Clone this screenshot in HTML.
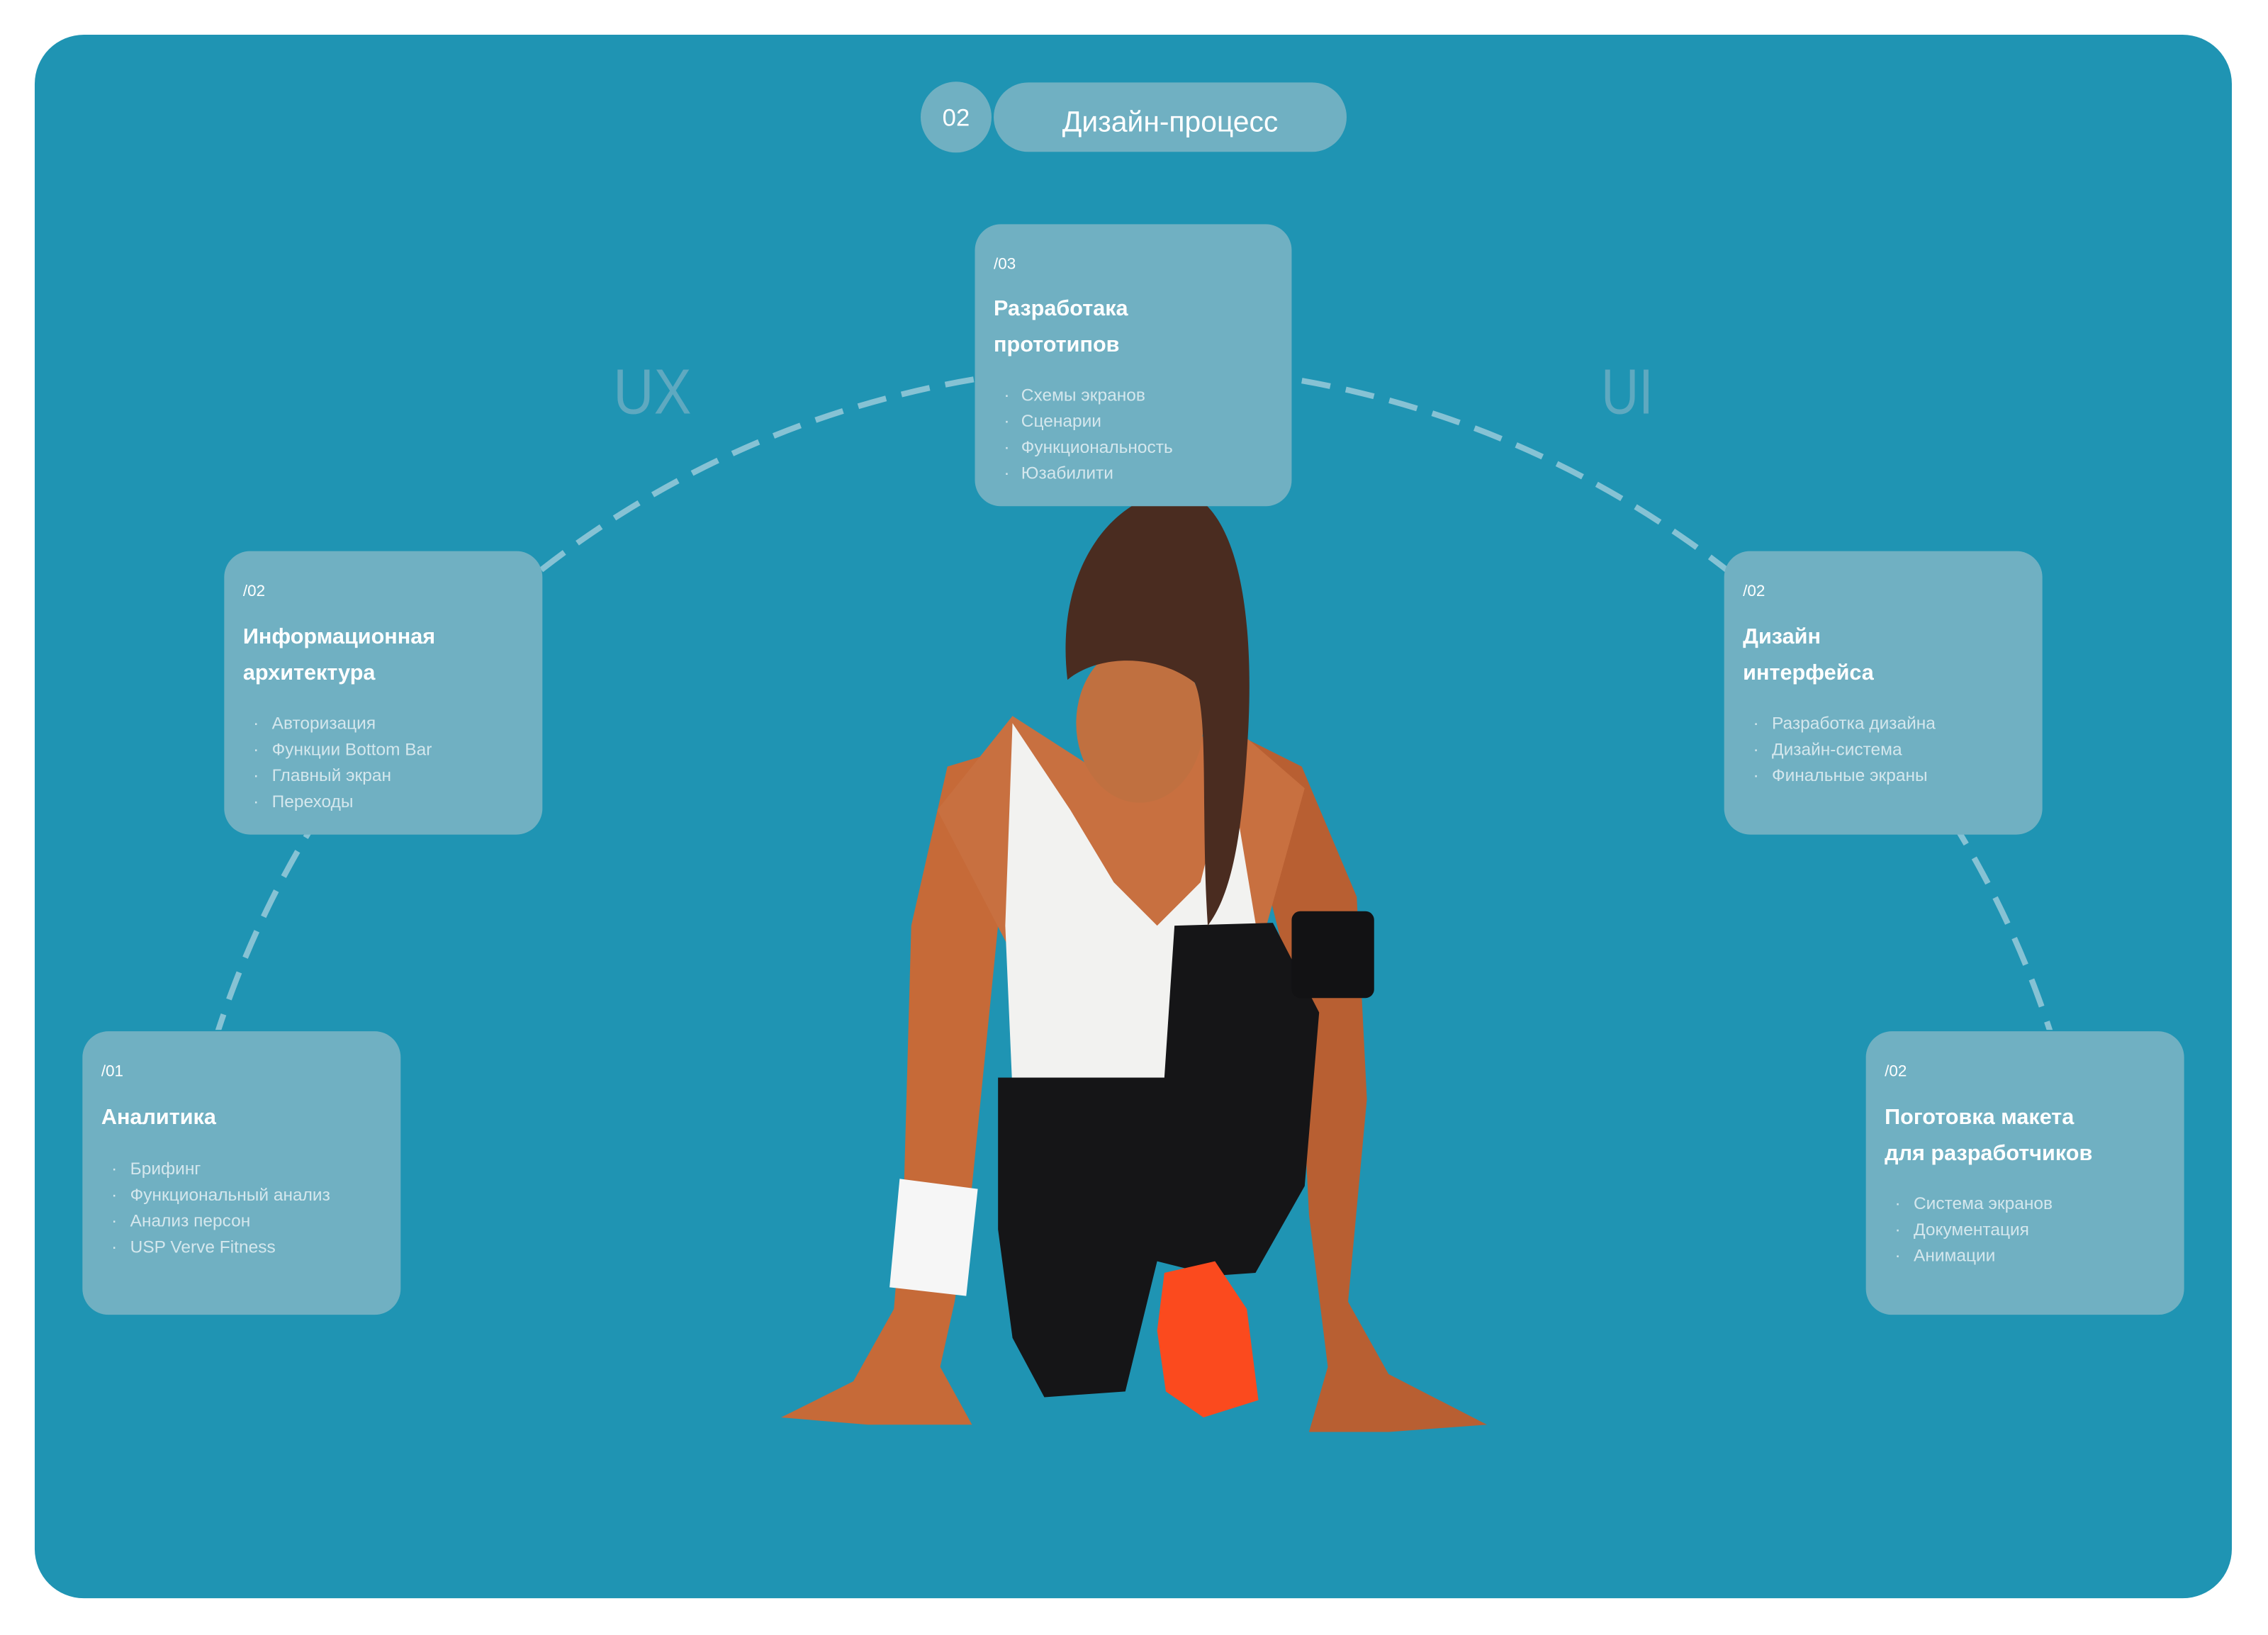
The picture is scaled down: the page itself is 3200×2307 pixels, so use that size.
<!DOCTYPE html>
<html><head><meta charset="utf-8"><style>
html,body{margin:0;padding:0;background:#fff;overflow:hidden;width:3200px;height:2307px;position:relative;}
svg{display:block;position:absolute;left:0;top:0;}
text{font-family:"Liberation Sans","DejaVu Sans",sans-serif;}
</style></head><body>
<svg width="3200" height="2307" viewBox="0 0 1568 1130.4" preserveAspectRatio="none" xmlns="http://www.w3.org/2000/svg">
<defs><clipPath id="arcclip"><rect x="0" y="0" width="1568" height="712"/></clipPath></defs>
<rect x="24" y="24" width="1519" height="1081" rx="34" fill="#1f94b3"/>
<circle cx="784" cy="919" r="666" fill="none" stroke="#86c2d4" stroke-width="4" stroke-dasharray="20 11" clip-path="url(#arcclip)"/>
<text x="424" y="286" font-size="44" fill="#5fa9c0" textLength="54" lengthAdjust="spacingAndGlyphs">UX</text>
<text x="1107" y="286" font-size="44" fill="#5fa9c0" textLength="36" lengthAdjust="spacingAndGlyphs">UI</text>
<circle cx="661" cy="81" r="24.5" fill="#70b0c2"/>
<text x="661" y="87" font-size="17" fill="#fff" text-anchor="middle">02</text>
<rect x="687" y="57" width="244" height="48" rx="24" fill="#70b0c2"/>
<text x="809" y="91" font-size="20" fill="#fff" text-anchor="middle">Дизайн-процесс</text>

<g>
<path d="M655,530 L705,515 L690,640 L672,820 L660,900 L650,945 L672,985 L600,985 L540,980 L590,955 L618,905 L625,820 L630,640 Z" fill="#c66a38"/>
<path d="M840,500 L900,530 L938,620 L945,760 L932,900 L960,950 L1028,985 L960,990 L905,990 L918,945 L905,840 L898,700 L878,620 Z" fill="#b85f32"/>
<path d="M648,560 L700,495 L770,540 L850,500 L902,545 L870,660 L700,660 Z" fill="#c87040"/>
<path d="M700,500 L740,560 L770,610 L800,640 L830,610 L850,530 L870,650 L812,690 L805,752 L700,755 L695,640 Z" fill="#f2f2f0"/>
<path d="M690,745 L805,745 L812,640 L880,638 L912,700 L902,820 L868,880 L840,882 L800,872 L778,962 L722,966 L700,925 L690,850 Z" fill="#151517"/>
<path d="M805,880 L840,872 L862,905 L870,968 L832,980 L806,962 L800,920 Z" fill="#fb4a1e"/>
<rect x="893" y="630" width="57" height="60" rx="6" fill="#121214"/>
<path d="M622,815 L676,822 L668,896 L615,890 Z" fill="#f6f6f6"/>
<ellipse cx="788" cy="500" rx="44" ry="55" fill="#c07040"/>
<path d="M738,470 C728,385 778,336 820,340 C860,355 868,440 862,520 C858,585 850,620 835,640 C830,565 836,495 826,472 C800,452 760,452 738,470 Z" fill="#4a2c20"/>
</g>

<rect x="674" y="155" width="219" height="195" rx="18" fill="#70b0c2"/>
<text x="687" y="186" font-size="11" fill="#fff">/03</text>
<text x="687" y="218" font-size="15" fill="#fff" font-weight="bold">Разработака</text>
<text x="687" y="243" font-size="15" fill="#fff" font-weight="bold">прототипов</text>
<g font-size="12" fill="#d4e7ed">
<text x="694" y="277">·</text><text x="706" y="277">Схемы экранов</text>
<text x="694" y="295">·</text><text x="706" y="295">Сценарии</text>
<text x="694" y="313">·</text><text x="706" y="313">Функциональность</text>
<text x="694" y="331">·</text><text x="706" y="331">Юзабилити</text>
</g>

<rect x="155" y="381" width="220" height="196" rx="18" fill="#70b0c2"/>
<text x="168" y="412" font-size="11" fill="#fff">/02</text>
<text x="168" y="445" font-size="15" fill="#fff" font-weight="bold">Информационная</text>
<text x="168" y="470" font-size="15" fill="#fff" font-weight="bold">архитектура</text>
<g font-size="12" fill="#d4e7ed">
<text x="175" y="504">·</text><text x="188" y="504">Авторизация</text>
<text x="175" y="522">·</text><text x="188" y="522">Функции Bottom Bar</text>
<text x="175" y="540">·</text><text x="188" y="540">Главный экран</text>
<text x="175" y="558">·</text><text x="188" y="558">Переходы</text>
</g>

<rect x="1192" y="381" width="220" height="196" rx="18" fill="#70b0c2"/>
<text x="1205" y="412" font-size="11" fill="#fff">/02</text>
<text x="1205" y="445" font-size="15" fill="#fff" font-weight="bold">Дизайн</text>
<text x="1205" y="470" font-size="15" fill="#fff" font-weight="bold">интерфейса</text>
<g font-size="12" fill="#d4e7ed">
<text x="1212" y="504">·</text><text x="1225" y="504">Разработка дизайна</text>
<text x="1212" y="522">·</text><text x="1225" y="522">Дизайн-система</text>
<text x="1212" y="540">·</text><text x="1225" y="540">Финальные экраны</text>
</g>

<rect x="57" y="713" width="220" height="196" rx="18" fill="#70b0c2"/>
<text x="70" y="744" font-size="11" fill="#fff">/01</text>
<text x="70" y="777" font-size="15" fill="#fff" font-weight="bold">Аналитика</text>
<g font-size="12" fill="#d4e7ed">
<text x="77" y="812">·</text><text x="90" y="812">Брифинг</text>
<text x="77" y="830">·</text><text x="90" y="830">Функциональный анализ</text>
<text x="77" y="848">·</text><text x="90" y="848">Анализ персон</text>
<text x="77" y="866">·</text><text x="90" y="866">USP Verve Fitness</text>
</g>

<rect x="1290" y="713" width="220" height="196" rx="18" fill="#70b0c2"/>
<text x="1303" y="744" font-size="11" fill="#fff">/02</text>
<text x="1303" y="777" font-size="15" fill="#fff" font-weight="bold">Поготовка макета</text>
<text x="1303" y="802" font-size="15" fill="#fff" font-weight="bold">для разработчиков</text>
<g font-size="12" fill="#d4e7ed">
<text x="1310" y="836">·</text><text x="1323" y="836">Система экранов</text>
<text x="1310" y="854">·</text><text x="1323" y="854">Документация</text>
<text x="1310" y="872">·</text><text x="1323" y="872">Анимации</text>
</g>
</svg>
</body></html>
